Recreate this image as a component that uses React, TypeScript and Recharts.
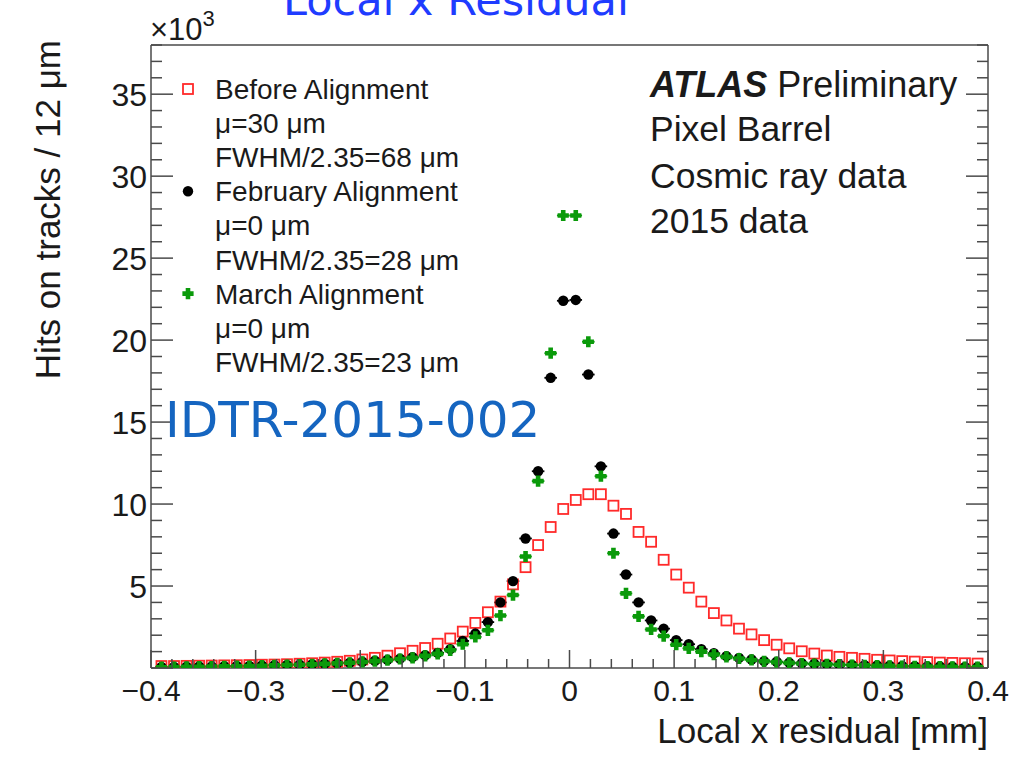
import { ScatterChart, Scatter, XAxis, YAxis, ErrorBar, Legend } from 'recharts';

// bin centres of the 12 um residual histogram, in mm
const binCenters = [
  -0.390, -0.378, -0.366, -0.354, -0.342, -0.330, -0.318, -0.306, -0.294, -0.282, -0.270,
  -0.258, -0.246, -0.234, -0.222, -0.210, -0.198, -0.186, -0.174, -0.162, -0.150, -0.138,
  -0.126, -0.114, -0.102, -0.090, -0.078, -0.066, -0.054, -0.042, -0.030, -0.018, -0.006,
  0.006, 0.018, 0.030, 0.042, 0.054, 0.066, 0.078, 0.090, 0.102, 0.114, 0.126,
  0.138, 0.150, 0.162, 0.174, 0.186, 0.198, 0.210, 0.222, 0.234, 0.246, 0.258,
  0.270, 0.282, 0.294, 0.306, 0.318, 0.330, 0.342, 0.354, 0.366, 0.378, 0.390,
];

// hits per bin, x10^3
const beforeAlignment = [
  0.12, 0.12, 0.13, 0.14, 0.15, 0.16, 0.17, 0.18, 0.20, 0.21, 0.23,
  0.26, 0.29, 0.33, 0.38, 0.44, 0.52, 0.62, 0.75, 0.90, 1.05, 1.22,
  1.48, 1.80, 2.22, 2.75, 3.40, 4.05, 5.10, 6.15, 7.50, 8.60, 9.70,
  10.25, 10.60, 10.60, 9.90, 9.40, 8.30, 7.70, 6.60, 5.70, 4.90, 4.05,
  3.35, 2.90, 2.40, 2.05, 1.70, 1.42, 1.20, 1.02, 0.88, 0.76, 0.68,
  0.62, 0.56, 0.50, 0.46, 0.42, 0.39, 0.36, 0.33, 0.31, 0.29, 0.27,
];

const februaryAlignment = [
  0.06, 0.07, 0.08, 0.09, 0.10, 0.11, 0.12, 0.13, 0.15, 0.17, 0.19,
  0.21, 0.23, 0.26, 0.29, 0.33, 0.38, 0.44, 0.50, 0.57, 0.66, 0.78,
  0.92, 1.15, 1.65, 2.10, 2.80, 4.00, 5.30, 7.90, 12.00, 17.70, 22.40,
  22.45, 17.90, 12.30, 8.20, 5.70, 4.00, 2.90, 2.40, 1.70, 1.45, 1.15,
  0.90, 0.72, 0.62, 0.52, 0.42, 0.38, 0.33, 0.29, 0.26, 0.23, 0.21,
  0.19, 0.17, 0.15, 0.14, 0.12, 0.11, 0.10, 0.09, 0.08, 0.07, 0.07,
];

const marchAlignment = [
  0.05, 0.06, 0.07, 0.08, 0.09, 0.10, 0.11, 0.12, 0.14, 0.16, 0.18,
  0.20, 0.22, 0.25, 0.28, 0.32, 0.37, 0.42, 0.48, 0.55, 0.62, 0.74,
  0.86, 1.08, 1.45, 1.90, 2.30, 3.20, 4.45, 6.80, 11.40, 19.20, 27.60,
  27.60, 19.90, 11.70, 7.00, 4.55, 3.15, 2.35, 1.95, 1.42, 1.20, 1.00,
  0.82, 0.68, 0.58, 0.49, 0.41, 0.36, 0.31, 0.27, 0.24, 0.22, 0.20,
  0.18, 0.16, 0.14, 0.13, 0.11, 0.10, 0.09, 0.08, 0.07, 0.06, 0.06,
];

const halfBinWidth = 0.006;

const xMajorTicks = [-0.4, -0.3, -0.2, -0.1, 0, 0.1, 0.2, 0.3, 0.4];
const yMajorTicks = [5, 10, 15, 20, 25, 30, 35];

// minor ticks: 5 divisions per major on x, every 1 on y
const xTicks = Array.from({ length: 41 }, (_, i) => Math.round((-0.4 + i * 0.02) * 1000) / 1000);
const yTicks = Array.from({ length: 39 }, (_, i) => i);

const FONT = '"Liberation Sans", Arial, Helvetica, sans-serif';
const FRAME = '#4a4a4a';
const TEXT = '#1a1a1a';

const toPoints = (values: number[]) =>
  binCenters.map((x, i) => ({ x, y: values[i], ex: halfBinWidth }));

const series = [
  {
    name: 'Before Alignment',
    mean: 'μ=30 μm',
    width: 'FWHM/2.35=68 μm',
    marker: 'square',
    color: '#ff2a2a',
    data: toPoints(beforeAlignment),
  },
  {
    name: 'February Alignment',
    mean: 'μ=0 μm',
    width: 'FWHM/2.35=28 μm',
    marker: 'circle',
    color: '#000000',
    data: toPoints(februaryAlignment),
  },
  {
    name: 'March Alignment',
    mean: 'μ=0 μm',
    width: 'FWHM/2.35=23 μm',
    marker: 'cross',
    color: '#0a9a0a',
    data: toPoints(marchAlignment),
  },
];

const isMajorX = (v: number) => xMajorTicks.some(t => Math.abs(t - v) < 1e-6);
const isMajorY = (v: number) => yMajorTicks.includes(v) || v === 0;
const formatX = (v: number) => (v === 0 ? '0' : (v < 0 ? '\u2212' : '') + Math.abs(v).toFixed(1));

const Marker = ({ kind, cx, cy, color }: { kind: string; cx: number; cy: number; color: string }) => {
  if (kind === 'square') {
    return <rect x={cx - 5} y={cy - 5} width={10} height={10} fill="none" stroke={color} strokeWidth={1.8} />;
  }
  if (kind === 'circle') {
    return <circle cx={cx} cy={cy} r={5.2} fill={color} />;
  }
  const a = 2.3;
  const l = 5.6;
  const d = `M${cx - a},${cy - l}H${cx + a}V${cy - a}H${cx + l}V${cy + a}H${cx + a}V${cy + l}H${cx - a}V${cy + a}H${cx - l}V${cy - a}H${cx - a}Z`;
  return <path d={d} fill={color} />;
};

const BottomTick = (props: any) => {
  const { x, y, payload } = props;
  const major = isMajorX(payload.value);
  return (
    <g>
      <line x1={x} y1={y} x2={x} y2={y - (major ? 18 : 9)} stroke={FRAME} strokeWidth={1.5} />
      {major && (
        <text x={x} y={y + 33} textAnchor="middle" fontFamily={FONT} fontSize={30} fill={TEXT}>
          {formatX(payload.value)}
        </text>
      )}
    </g>
  );
};

const TopTick = (props: any) => {
  const { x, y, payload } = props;
  const major = isMajorX(payload.value);
  return <line x1={x} y1={y} x2={x} y2={y + (major ? 18 : 9)} stroke={FRAME} strokeWidth={1.5} />;
};

const LeftTick = (props: any) => {
  const { x, y, payload } = props;
  const major = isMajorY(payload.value);
  return (
    <g>
      <line x1={x} y1={y} x2={x + (major ? 22 : 11)} y2={y} stroke={FRAME} strokeWidth={1.5} />
      {major && payload.value > 0 && (
        <text x={x - 4} y={y} dy="0.36em" textAnchor="end" fontFamily={FONT} fontSize={32} fill={TEXT}>
          {payload.value}
        </text>
      )}
    </g>
  );
};

const RightTick = (props: any) => {
  const { x, y, payload } = props;
  const major = isMajorY(payload.value);
  return <line x1={x} y1={y} x2={x - (major ? 22 : 11)} y2={y} stroke={FRAME} strokeWidth={1.5} />;
};

const LegendBox = ({ payload }: { payload?: any[] }) => {
  const names = (payload ?? []).map(p => p.value);
  const entries = series.filter(s => names.length === 0 || names.includes(s.name));
  const step = 34.1;
  return (
    <svg width={320} height={310}>
      {entries.map((s, i) => {
        const top = 19 + i * 3 * step;
        return (
          <g key={s.name}>
            <Marker kind={s.marker} cx={20} cy={top} color={s.color} />
            {[s.name, s.mean, s.width].map((line, j) => (
              <text key={j} x={47} y={top + j * step + 10} fontFamily={FONT} fontSize={28} fill={TEXT}>
                {line}
              </text>
            ))}
          </g>
        );
      })}
    </svg>
  );
};

const axisLine = { stroke: FRAME, strokeWidth: 1.5 };

export default function App() {
  return (
    <div style={{ position: 'absolute', left: 0, top: 0, width: 1025, height: 758, background: '#fff' }}>
      <ScatterChart width={1025} height={758} margin={{ top: 44, right: 36, bottom: 89, left: 150 }}>
        <XAxis
          type="number"
          dataKey="x"
          domain={[-0.4, 0.4]}
          ticks={xTicks}
          interval={0}
          allowDataOverflow
          height={1}
          tickSize={0}
          tickMargin={0}
          axisLine={axisLine}
          tickLine={false}
          tick={BottomTick}
        />
        <XAxis
          xAxisId="top"
          orientation="top"
          type="number"
          domain={[-0.4, 0.4]}
          ticks={xTicks}
          interval={0}
          allowDataOverflow
          height={1}
          tickSize={0}
          tickMargin={0}
          axisLine={axisLine}
          tickLine={false}
          tick={TopTick}
        />
        <YAxis
          type="number"
          dataKey="y"
          domain={[0, 38]}
          ticks={yTicks}
          interval={0}
          allowDataOverflow
          width={1}
          tickSize={0}
          tickMargin={0}
          axisLine={axisLine}
          tickLine={false}
          tick={LeftTick}
        />
        <YAxis
          yAxisId="right"
          orientation="right"
          type="number"
          domain={[0, 38]}
          ticks={yTicks}
          interval={0}
          allowDataOverflow
          width={1}
          tickSize={0}
          tickMargin={0}
          axisLine={axisLine}
          tickLine={false}
          tick={RightTick}
        />
        {series.map(s => (
          <Scatter
            key={s.name}
            name={s.name}
            data={s.data}
            fill={s.color}
            isAnimationActive={false}
            shape={(p: any) => <Marker kind={s.marker} cx={p.cx} cy={p.cy} color={s.color} />}
          >
            {s.marker !== 'square' && (
              <ErrorBar dataKey="ex" direction="x" width={0} stroke={s.color} strokeWidth={1.8} />
            )}
          </Scatter>
        ))}
        <Legend
          layout="vertical"
          align="center"
          verticalAlign="middle"
          wrapperStyle={{ left: 168, top: 70, width: 320, height: 310 }}
          content={(p: any) => <LegendBox payload={p.payload} />}
        />
      </ScatterChart>

      <svg
        width={1025}
        height={758}
        style={{ position: 'absolute', left: 0, top: 0, pointerEvents: 'none' }}
      >
        <text x={150} y={40} fontFamily={FONT} fontSize={31} fill={TEXT}>
          ×10<tspan dy={-14} fontSize={22}>3</tspan>
        </text>

        <text x={60} y={40} transform="rotate(-90 60 40)" textAnchor="end" fontFamily={FONT} fontSize={35} fill={TEXT}>
          Hits on tracks / 12 μm
        </text>
        <text x={988} y={743} textAnchor="end" fontFamily={FONT} fontSize={35} fill={TEXT}>
          Local x residual [mm]
        </text>

        <text x={650} y={97} fontFamily={FONT} fontSize={36} fill={TEXT}>
          <tspan fontWeight="bold" fontStyle="italic">ATLAS</tspan> Preliminary
        </text>
        <text x={650} y={141} fontFamily={FONT} fontSize={35.5} fill={TEXT}>Pixel Barrel</text>
        <text x={650} y={188} fontFamily={FONT} fontSize={35.5} fill={TEXT}>Cosmic ray data</text>
        <text x={650} y={233} fontFamily={FONT} fontSize={35.5} fill={TEXT}>2015 data</text>

        <text x={283} y={15} fontFamily='"DejaVu Sans", sans-serif' fontSize={43} fill="#1f3cff">
          Local x Residual
        </text>
        <text x={165} y={437} fontFamily='"DejaVu Sans", sans-serif' fontSize={50} fill="#1565c0">
          IDTR-2015-002
        </text>
      </svg>
    </div>
  );
}
